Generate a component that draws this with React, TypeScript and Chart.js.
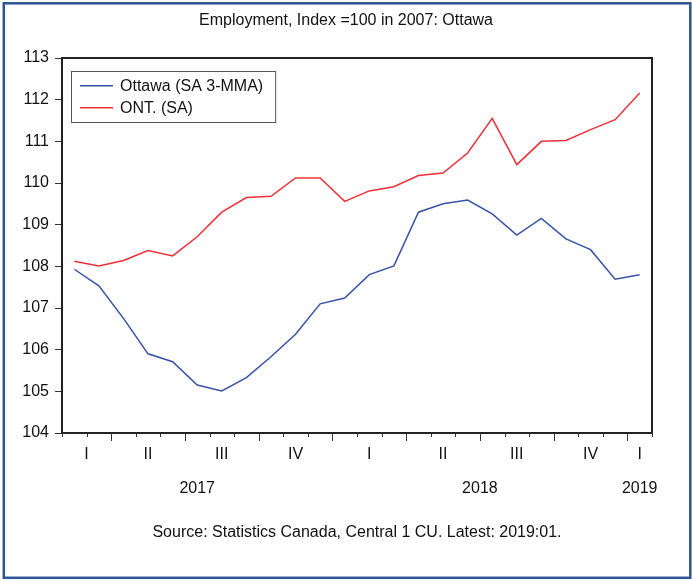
import React, { useEffect, useRef } from "react";
import { Chart, registerables } from "chart.js";

Chart.register(...registerables);

const titleText = "Employment, Index =100 in 2007: Ottawa";
const sourceText = "Source: Statistics Canada, Central 1 CU. Latest: 2019:01.";

const months = [
  "2017-02", "2017-03", "2017-04", "2017-05", "2017-06", "2017-07",
  "2017-08", "2017-09", "2017-10", "2017-11", "2017-12", "2018-01",
  "2018-02", "2018-03", "2018-04", "2018-05", "2018-06", "2018-07",
  "2018-08", "2018-09", "2018-10", "2018-11", "2018-12", "2019-01",
];

const ottawaLabel = "Ottawa (SA 3-MMA)";
const ottawa = [
  107.93, 107.53, 106.75, 105.9, 105.71, 105.15, 105.01, 105.33, 105.83,
  106.37, 107.1, 107.24, 107.8, 108.01, 109.3, 109.5, 109.59, 109.26,
  108.75, 109.15, 108.66, 108.4, 107.69, 107.8,
];

const ontLabel = "ONT. (SA)";
const ont = [
  108.12, 108.01, 108.14, 108.38, 108.25, 108.71, 109.3, 109.65, 109.68,
  110.12, 110.12, 109.56, 109.81, 109.91, 110.18, 110.24, 110.72, 111.55,
  110.44, 111.0, 111.02, 111.28, 111.52, 112.16,
];

const quarterNames = ["I", "II", "III", "IV"];
const yMin = 104;
const yMax = 113;
const yStep = 1;

const FONT = "'Liberation Sans', Arial, Helvetica, sans-serif";
const BLUE = "#3653A8";
const RED = "#EE3036";
const TEXT = "#111111";

function groupCenters(keyOf: (m: string) => string) {
  const groups: { key: string; start: number; end: number }[] = [];
  months.forEach((m, i) => {
    const k = keyOf(m);
    const last = groups[groups.length - 1];
    if (last && last.key === k) last.end = i;
    else groups.push({ key: k, start: i, end: i });
  });
  return groups;
}

const decorPlugin = {
  id: "eviewsDecor",
  beforeDraw(chart: any) {
    const { ctx, width, height } = chart;
    ctx.save();
    ctx.fillStyle = "#ffffff";
    ctx.fillRect(0, 0, width, height);
    ctx.strokeStyle = "#2B5593";
    ctx.lineWidth = 2.5;
    ctx.strokeRect(3.8, 3.3, 686.5, 574.5);
    ctx.restore();
  },
  afterDraw(chart: any) {
    const { ctx, chartArea, scales } = chart;
    const { left, right, top, bottom } = chartArea;
    const x = scales.x;
    ctx.save();

    // plot frame
    ctx.strokeStyle = "#222222";
    ctx.lineWidth = 2;
    ctx.strokeRect(left, top, right - left, bottom - top);

    // x tick marks (month boundaries, quarter boundaries longer)
    ctx.lineWidth = 1;
    ctx.strokeStyle = "#333333";
    for (let i = 0; i <= months.length; i++) {
      const px = Math.round(x.getPixelForValue(i - 0.5)) + 0.5;
      const mo = i < months.length ? parseInt(months[i].slice(5), 10) : 0;
      const major = mo > 0 && (mo - 1) % 3 === 0;
      ctx.beginPath();
      ctx.moveTo(px, bottom);
      ctx.lineTo(px, bottom + (major ? 8 : 4));
      ctx.stroke();
    }

    // quarter labels
    ctx.fillStyle = TEXT;
    ctx.font = `16px ${FONT}`;
    ctx.textAlign = "center";
    ctx.textBaseline = "middle";
    const quarters = groupCenters((m) => {
      const mo = parseInt(m.slice(5), 10);
      return m.slice(0, 4) + "Q" + Math.floor((mo - 1) / 3);
    });
    quarters.forEach((g) => {
      const q = parseInt(g.key.split("Q")[1], 10);
      const px = x.getPixelForValue((g.start + g.end) / 2);
      ctx.fillText(quarterNames[q], px, bottom + 22);
    });

    // year labels
    const years = groupCenters((m) => m.slice(0, 4));
    years.forEach((g) => {
      const px = x.getPixelForValue((g.start + g.end) / 2);
      ctx.fillText(g.key, px, bottom + 56);
    });

    // title & source
    ctx.fillText(titleText, 346, 21);
    ctx.fillText(sourceText, (left + right) / 2, 533);

    // legend
    const datasets = chart.data.datasets;
    ctx.font = `16px ${FONT}`;
    let maxW = 0;
    datasets.forEach((d: any) => {
      maxW = Math.max(maxW, ctx.measureText(d.label).width);
    });
    const bx = left + 9;
    const by = top + 13;
    const bw = 58 + maxW + 12 - 9;
    const bh = 51;
    ctx.fillStyle = "#ffffff";
    ctx.fillRect(bx, by, bw, bh);
    ctx.strokeStyle = "#555555";
    ctx.lineWidth = 1;
    ctx.strokeRect(Math.round(bx) + 0.5, Math.round(by) + 0.5, bw, bh);
    datasets.forEach((d: any, i: number) => {
      const ry = by + 14.7 + i * 22;
      ctx.strokeStyle = d.borderColor;
      ctx.lineWidth = 1.5;
      ctx.beginPath();
      ctx.moveTo(bx + 9, ry);
      ctx.lineTo(bx + 42, ry);
      ctx.stroke();
      ctx.fillStyle = TEXT;
      ctx.textAlign = "left";
      ctx.fillText(d.label, bx + 49, ry + 1);
    });

    ctx.restore();
  },
};

export default function App() {
  const canvasRef = useRef<HTMLCanvasElement | null>(null);

  useEffect(() => {
    const canvas = canvasRef.current;
    if (!canvas) return;
    const chart = new Chart(canvas, {
      type: "line",
      data: {
        labels: months,
        datasets: [
          {
            label: ottawaLabel,
            data: ottawa,
            borderColor: BLUE,
            borderWidth: 1.5,
            pointRadius: 0,
            tension: 0,
            fill: false,
          },
          {
            label: ontLabel,
            data: ont,
            borderColor: RED,
            borderWidth: 1.5,
            pointRadius: 0,
            tension: 0,
            fill: false,
          },
        ],
      },
      options: {
        responsive: false,
        animation: false,
        devicePixelRatio: 1,
        layout: { padding: { top: 58, right: 40, bottom: 148, left: 0 } },
        plugins: {
          legend: { display: false },
          title: { display: false },
          tooltip: { enabled: false },
        },
        scales: {
          x: {
            type: "category",
            offset: true,
            grid: { display: false },
            border: { display: false },
            ticks: { display: false },
            afterFit: (s: any) => {
              s.height = 0;
            },
          },
          y: {
            min: yMin,
            max: yMax,
            ticks: {
              stepSize: yStep,
              color: TEXT,
              font: { family: FONT, size: 16 },
              padding: 6,
            },
            grid: {
              drawOnChartArea: false,
              drawTicks: true,
              tickLength: 7,
              tickColor: "#333333",
              tickWidth: 1,
            },
            border: { display: false },
            afterFit: (s: any) => {
              s.width = 62;
            },
          },
        },
      },
      plugins: [decorPlugin],
    });
    return () => chart.destroy();
  }, []);

  return (
    <div style={{ position: "absolute", left: 0, top: 0, width: 692, height: 581 }}>
      <canvas ref={canvasRef} width={692} height={581} style={{ width: 692, height: 581, display: "block" }} />
    </div>
  );
}
